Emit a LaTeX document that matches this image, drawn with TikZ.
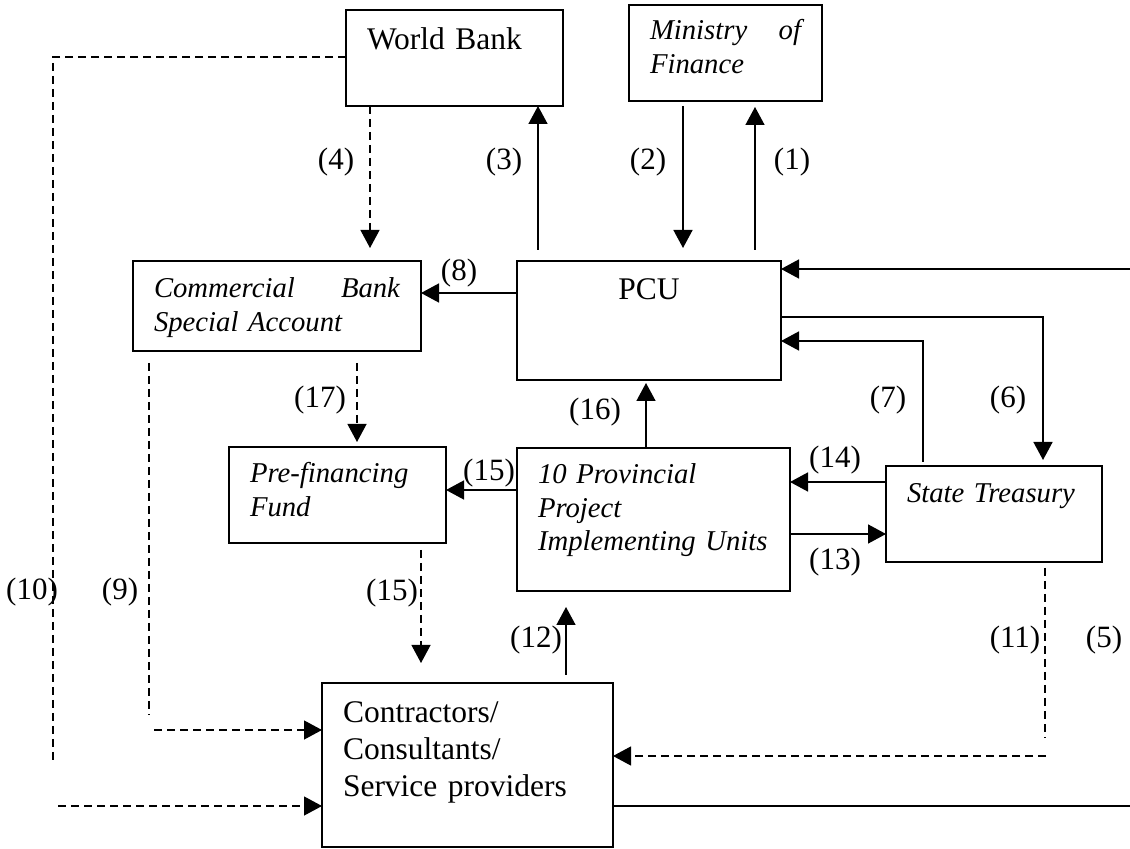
\documentclass[tikz,border=0pt]{standalone}
\usepackage{fontspec}
\setmainfont{Liberation Serif}
\usetikzlibrary{arrows.meta, positioning, calc}

\tikzset{
  flowbox/.style={draw, line width=1pt, anchor=north west, inner xsep=10.5pt, inner ysep=0pt, outer sep=0pt, align=left},
  txtrm/.style={font=\fontsize{15.75}{18.5}\selectfont},
  txtit/.style={font=\fontsize{14.35}{16.6}\selectfont\itshape},
  num/.style={font=\fontsize{15.5}{18}\selectfont, inner sep=0pt},
  flow/.style={line width=0.75pt},
  arr/.style={flow, -{Triangle[length=9pt,width=9.5pt]}},
  darr/.style={arr, line width=0.6pt, dash pattern=on 4pt off 2.5pt},
  dline/.style={line width=0.6pt, dash pattern=on 4pt off 2.5pt},
}

\begin{document}
\begin{tikzpicture}[x=0.5pt, y=-0.5pt]
            \useasboundingbox (0,0) rectangle (1130,849);

            % Boxes
            \node[flowbox, txtrm, text width=87.5pt, text height=20pt, text depth=28pt] (wb) at (346,10) {World Bank};
            \node[flowbox, txtit, text width=75.5pt, text height=17.5pt, text depth=30.5pt] (mof) at (629,5) {Ministry\hfill of\\Finance};
            \node[flowbox, txtit, text width=123pt, text height=18.5pt, text depth=26.5pt] (cb) at (133,261) {Commercial\hfill Bank\\Special Account};
            \node[flowbox, txtrm, align=center, text width=111pt, text height=19.5pt, text depth=40pt] (pcu) at (517,261) {PCU};
            \node[flowbox, txtit, text width=87.5pt, text height=18pt, text depth=30pt] (pf) at (229,447) {Pre-financing\\Fund};
            \node[flowbox, txtit, text width=115.5pt, text height=18pt, text depth=53.5pt] (piu) at (517,448) {10 Provincial\\Project\\Implementing Units};
            \node[flowbox, txtit, text width=87pt, text height=18.5pt, text depth=29.5pt] (st) at (886,466) {State Treasury};
            \node[flowbox, txtrm, text width=124.5pt, text height=19.5pt, text depth=62.5pt] (cc) at (322,683) {Contractors/\\Consultants/\\Service providers};

            % Labels
            \node[num] (n1) at (792,162) {(1)};
            \node[num] (n2) at (648,162) {(2)};
            \node[num] (n3) at (504,162) {(3)};
            \node[num] (n4) at (336,162) {(4)};
            \node[num] (n8) at (459,273) {(8)};
            \node[num] (n17) at (320,400) {(17)};
            \node[num] (n16) at (595,412) {(16)};
            \node[num] (n7) at (888,400) {(7)};
            \node[num] (n6) at (1008,400) {(6)};
            \node[num] (n15a) at (489,473) {(15)};
            \node[num] (n14) at (835,460) {(14)};
            \node[num] (n13) at (835,562) {(13)};
            \node[num] (n10) at (32,592) {(10)};
            \node[num] (n9) at (120,592) {(9)};
            \node[num] (n15b) at (392,593) {(15)};
            \node[num] (n12) at (536,640) {(12)};
            \node[num] (n11) at (1015,640) {(11)};
            \node[num] (n5) at (1104,640) {(5)};

            % Top flows
            \coordinate (s1) at (755,250);
            \draw[arr, shorten >=3pt] (s1) -- (s1 |- mof.south);
            \coordinate (s2) at (683,106);
            \draw[arr, shorten >=6.5pt] (s2) -- (s2 |- pcu.north);
            \coordinate (s3) at (538,250);
            \draw[arr] (s3) -- (s3 |- wb.south);
            \coordinate (s4) at (370,106);
            \draw[darr, shorten >=6.5pt] (s4) -- (s4 |- cb.north);

            % PCU links
            \coordinate (s8) at (517,293);
            \draw[arr] (s8) -- (s8 -| cb.east);
            \coordinate (e0) at (1130,269);
            \draw[arr] (e0) -- (e0 -| pcu.east);
            \coordinate (s6) at (782,317);
            \coordinate (k6) at (1043,317);
            \draw[arr, shorten >=3pt] (s6) -- (k6) -- (k6 |- st.north);
            \coordinate (s7) at (923,462);
            \coordinate (k7) at (923,341);
            \draw[arr] (s7) -- (k7) -- (k7 -| pcu.east);
            \coordinate (s16) at (646,448);
            \draw[arr, shorten >=1.5pt] (s16) -- (s16 |- pcu.south);

            % Middle row
            \coordinate (s14) at (886,482);
            \draw[arr] (s14) -- (s14 -| piu.east);
            \coordinate (s13) at (790,534);
            \draw[arr] (s13) -- (s13 -| st.west);
            \coordinate (s15) at (517,490);
            \draw[arr] (s15) -- (s15 -| pf.east);
            \coordinate (s17) at (357,363);
            \draw[darr, shorten >=2.5pt] (s17) -- (s17 |- pf.north);

            % Towards contractors
            \coordinate (t15) at (421,550);
            \draw[darr, shorten >=10pt] (t15) -- (t15 |- cc.north);
            \coordinate (s12) at (566,675);
            \draw[arr, shorten >=8pt] (s12) -- (s12 |- piu.south);
            \coordinate (v9a) at (149,363);
            \coordinate (v9b) at (149,715);
            \draw[dline] (v9a) -- (v9b);
            \coordinate (h9) at (154,730);
            \draw[darr] (h9) -- (h9 -| cc.west);
            \coordinate (v10a) at (53,57);
            \coordinate (v10b) at (53,762);
            \draw[dline] (wb.west |- v10a) -- (v10a) -- (v10b);
            \coordinate (h10) at (58,806);
            \draw[darr] (h10) -- (h10 -| cc.west);
            \coordinate (v11a) at (1045,568);
            \coordinate (v11b) at (1045,738);
            \draw[dline] (v11a) -- (v11b);
            \coordinate (h11) at (1046,756);
            \draw[darr] (h11) -- (h11 -| cc.east);
            \coordinate (e5) at (1130,806);
            \draw[flow] (cc.east |- e5) -- (e5);
\end{tikzpicture}
\end{document}
